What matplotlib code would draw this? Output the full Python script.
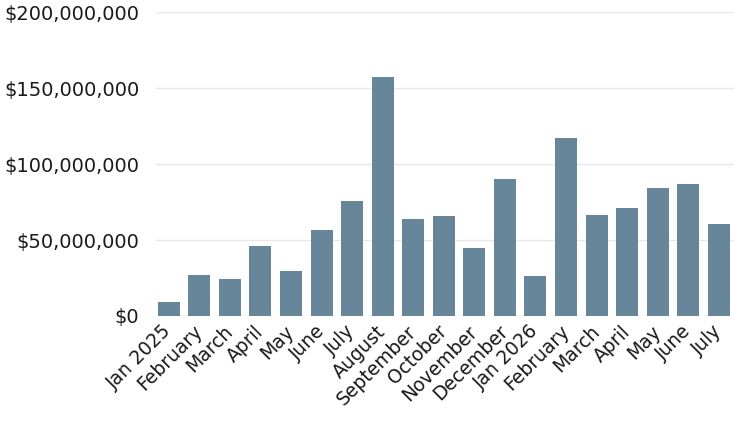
import matplotlib
matplotlib.use("Agg")
import matplotlib.pyplot as plt
from matplotlib.ticker import FuncFormatter

months = ["Jan 2025", "February", "March", "April", "May", "June", "July",
          "August", "September", "October", "November", "December",
          "Jan 2026", "February", "March", "April", "May", "June", "July"]
values = [9.2e6, 26.8e6, 24.5e6, 46.0e6, 29.6e6, 56.6e6, 75.7e6,
          157.0e6, 64.0e6, 65.8e6, 44.7e6, 90.1e6,
          26.3e6, 117.3e6, 66.4e6, 71.0e6, 84.4e6, 86.8e6, 60.3e6]
yticks = [0, 50e6, 100e6, 150e6, 200e6]

plt.rcParams['font.family'] = ['DejaVu Sans']

fig = plt.figure(figsize=(7.39, 4.23), dpi=100)
W, H = 739, 423
ax = fig.add_axes([156 / W, 1 - 316 / H, (734 - 156) / W, (316 - 12) / H])

x = list(range(len(months)))
ax.bar(x, values, width=0.72, color="#68869a", zorder=3)

ax.set_ylim(0, 200e6)
ax.set_xlim(-0.42, 18.5)
ax.set_yticks(yticks)
ax.yaxis.set_major_formatter(FuncFormatter(lambda v, p: "${:,.0f}".format(v)))
ax.grid(axis='y', color="#e8e8e8", linewidth=1, zorder=0)
for s in ax.spines.values():
    s.set_visible(False)
ax.tick_params(axis='y', length=0, pad=12, labelsize=14, labelcolor="#1a1a1a")
ax.tick_params(axis='x', length=0, pad=9)
ax.set_xticks(x)
ax.set_xticklabels(months, rotation=45, ha='right', va='center',
                   rotation_mode='anchor', fontsize=13.5, color="#1a1a1a")

fig.savefig("out.png", dpi=100)
